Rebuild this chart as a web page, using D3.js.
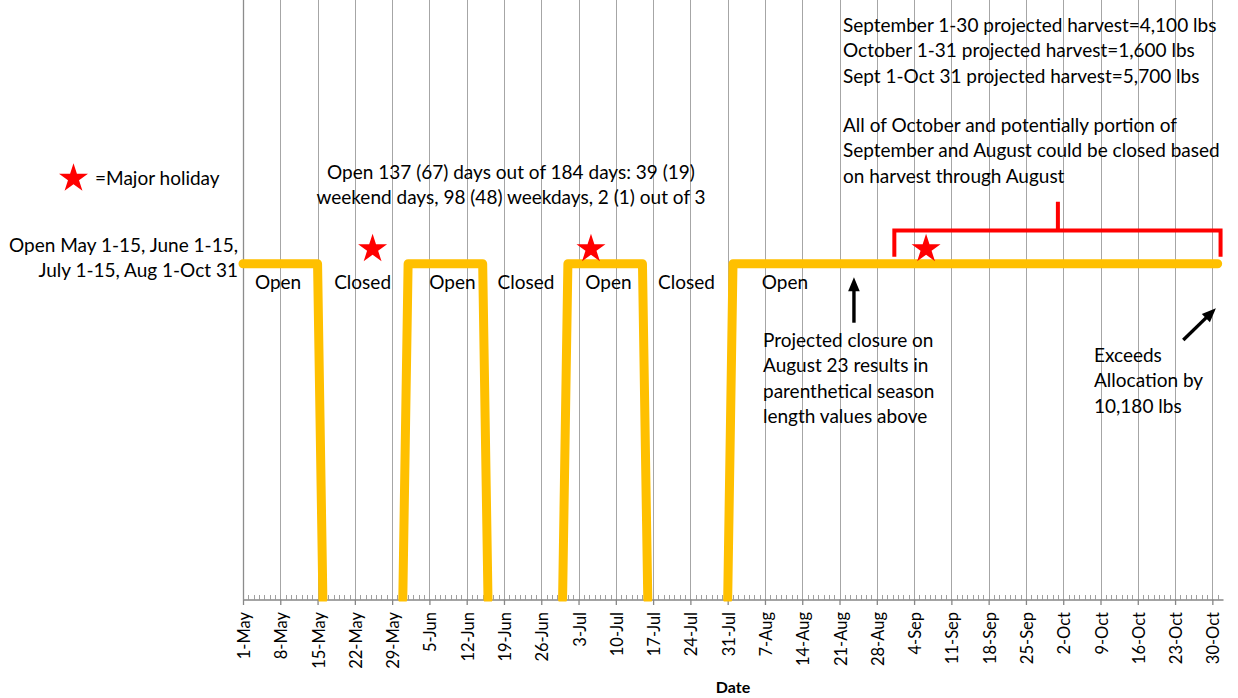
<!DOCTYPE html>
<html>
<head>
<meta charset="utf-8">
<script src="https://cdn.jsdelivr.net/npm/d3@7"></script>
<style>
  body { margin: 0; background: #fff; }
  svg { display: block; font-family: Lato, "Noto Sans", sans-serif; }
</style>
</head>
<body>
<svg id="chart" width="1238" height="698"></svg>
<script>
// season open (1) / closed (0) breakpoints; null = closed stretch drawn as a gap
const seasonDates = ['2015-05-01', '2015-05-15', '2015-05-16', '2015-05-23', '2015-05-31', '2015-06-01', '2015-06-15',
  '2015-06-16', '2015-06-23', '2015-06-30', '2015-07-01', '2015-07-15', '2015-07-16', '2015-07-23', '2015-07-31',
  '2015-08-01', '2015-10-31'];
const seasonOpen = [1, 1, 0, null, 0, 1, 1, 0, null, 0, 1, 1, 0, null, 0, 1, 1];

const tickLabels = ['1-May', '8-May', '15-May', '22-May', '29-May', '5-Jun', '12-Jun', '19-Jun', '26-Jun', '3-Jul',
  '10-Jul', '17-Jul', '24-Jul', '31-Jul', '7-Aug', '14-Aug', '21-Aug', '28-Aug', '4-Sep', '11-Sep', '18-Sep',
  '25-Sep', '2-Oct', '9-Oct', '16-Oct', '23-Oct', '30-Oct'];

const periodLabels = ['Open', 'Closed', 'Open', 'Closed', 'Open', 'Closed', 'Open'];
const periodLabelDates = ['2015-05-07 14', '2015-05-23 11', '2015-06-09 08', '2015-06-23 03', '2015-07-08 15',
  '2015-07-23 06', '2015-08-10 18'];

const holidayDates = ['2015-05-25 08', '2015-07-05 08', '2015-09-06 06'];

const bracketDates = ['2015-08-31 07', '2015-10-01 00', '2015-10-31 13'];
const closureArrow = [['2015-08-23 17', 0.8245], ['2015-08-23 17', 0.96]];
const exceedArrow = [['2015-10-24 13', 0.773], ['2015-10-30 16', 0.8675]];

const legendText = '=Major holiday';
const noteRules = ['Open May 1-15, June 1-15,', 'July 1-15, Aug 1-Oct 31'];
const noteSeason = ['Open 137 (67) days out of 184 days: 39 (19)', 'weekend days, 98 (48) weekdays, 2 (1) out of 3'];
const noteHarvest = ['September 1-30 projected harvest=4,100 lbs', 'October 1-31 projected harvest=1,600 lbs',
  'Sept 1-Oct 31 projected harvest=5,700 lbs'];
const noteClosure = ['All of October and potentially portion of', 'September and August could be closed based',
  'on harvest through August'];
const noteProjected = ['Projected closure on', 'August 23 results in', 'parenthetical season', 'length values above'];
const noteExceeds = ['Exceeds', 'Allocation by', '10,180 lbs'];

const parseDay = d3.utcParse('%Y-%m-%d');
const parseHour = d3.utcParse('%Y-%m-%d %H');
const parseDate = (s) => (s.length > 10 ? parseHour(s) : parseDay(s));
const parseTick = (s) => d3.utcParse('%d-%b-%Y')(s + '-2015');

const svg = d3.select('#chart');
const plotLeft = 243;
const plotRight = 1223;
const plotBottom = 599.5;
const unitPx = 335.7;
const yMax = 1.79;

const x = d3.scaleUtc().domain([parseDay('2015-05-01'), parseDay('2015-11-01')]).range([plotLeft, plotRight]);
const y = d3.scaleLinear().domain([0, yMax]).range([plotBottom, plotBottom - unitPx * yMax]);

const tickDates = tickLabels.map(parseTick);
const labelByTime = new Map(tickDates.map((d, i) => [+d, tickLabels[i]]));
const snap = (v) => Math.round(v) + 0.5;

// gridlines
svg
  .append('g')
  .selectAll('line')
  .data(tickDates)
  .join('line')
  .attr('x1', (d) => snap(x(d)))
  .attr('x2', (d) => snap(x(d)))
  .attr('y1', 0)
  .attr('y2', plotBottom)
  .attr('stroke', '#a6a6a6')
  .attr('stroke-width', 1);

// daily minor ticks
svg
  .append('g')
  .selectAll('line')
  .data(d3.utcDay.range(x.domain()[0], x.domain()[1]))
  .join('line')
  .attr('x1', (d) => snap(x(d)))
  .attr('x2', (d) => snap(x(d)))
  .attr('y1', plotBottom - 4.5)
  .attr('y2', plotBottom)
  .attr('stroke', '#a0a0a0')
  .attr('stroke-width', 1);

// left axis line
svg
  .append('line')
  .attr('x1', snap(plotLeft))
  .attr('x2', snap(plotLeft))
  .attr('y1', 0)
  .attr('y2', plotBottom)
  .attr('stroke', '#8c8c8c')
  .attr('stroke-width', 1.3);

// x axis
const xAxis = svg
  .append('g')
  .attr('transform', `translate(0, ${plotBottom})`)
  .call(
    d3
      .axisBottom(x)
      .tickValues(tickDates)
      .tickSize(5.5)
      .tickSizeOuter(0)
      .tickFormat((d) => labelByTime.get(+d))
  );
xAxis.select('.domain').attr('stroke', '#868686').attr('stroke-width', 1.6);
xAxis.selectAll('.tick line').attr('stroke', '#868686').attr('stroke-width', 1.3);
xAxis
  .selectAll('.tick text')
  .attr('transform', 'rotate(-90)')
  .attr('text-anchor', 'end')
  .attr('x', -12.5)
  .attr('y', 6.5)
  .attr('dy', null)
  .attr('font-family', 'Lato, "Noto Sans", sans-serif')
  .attr('font-size', 16.5)
  .attr('fill', '#000');

svg
  .append('text')
  .attr('x', (plotLeft + plotRight) / 2)
  .attr('y', 693)
  .attr('text-anchor', 'middle')
  .attr('font-size', 16)
  .attr('font-weight', 'bold')
  .text('Date');

// season line, clipped flat just below the axis
svg
  .append('clipPath')
  .attr('id', 'plot-clip')
  .append('rect')
  .attr('x', plotLeft - 6)
  .attr('y', -10)
  .attr('width', plotRight - plotLeft + 12)
  .attr('height', plotBottom + 12);

const seasonPoints = seasonDates.map((d, i) => ({ date: parseDate(d), open: seasonOpen[i] }));
svg
  .append('path')
  .datum(seasonPoints)
  .attr('clip-path', 'url(#plot-clip)')
  .attr('fill', 'none')
  .attr('stroke', '#FFC000')
  .attr('stroke-width', 9)
  .attr('stroke-linejoin', 'round')
  .attr('stroke-linecap', 'round')
  .attr(
    'd',
    d3
      .line()
      .defined((d) => d.open !== null)
      .x((d) => x(d.date))
      .y((d) => y(d.open))
  );

// open / closed labels
svg
  .append('g')
  .selectAll('text')
  .data(periodLabels)
  .join('text')
  .attr('x', (d, i) => x(parseDate(periodLabelDates[i])))
  .attr('y', y(1) + 25)
  .attr('text-anchor', 'middle')
  .attr('font-size', 19)
  .text((d) => d);

// holiday stars
const star = d3.symbol().type(d3.symbolStar).size(260);
svg
  .append('g')
  .selectAll('path')
  .data(holidayDates)
  .join('path')
  .attr('transform', (d) => `translate(${x(parseDate(d))}, ${y(1.044)})`)
  .attr('d', star)
  .attr('fill', '#FF0000');

// bracket over Sept-Oct
const [bStart, bMid, bEnd] = bracketDates.map((d) => x(parseDate(d)));
svg
  .append('path')
  .attr(
    'd',
    `M${bStart},${y(1.021)}V${y(1.099)}H${bEnd}V${y(1.021)}M${bMid},${y(1.099)}V${y(1.185)}`
  )
  .attr('fill', 'none')
  .attr('stroke', '#FF0000')
  .attr('stroke-width', 4);

// arrows
function drawArrow(spec) {
  const [tail, tip] = spec.map(([d, v]) => [x(parseDate(d)), y(v)]);
  const len = Math.hypot(tip[0] - tail[0], tip[1] - tail[1]);
  const ux = (tip[0] - tail[0]) / len;
  const uy = (tip[1] - tail[1]) / len;
  const head = 14;
  const half = 5.8;
  const bx = tip[0] - ux * head;
  const by = tip[1] - uy * head;
  svg
    .append('line')
    .attr('x1', tail[0])
    .attr('y1', tail[1])
    .attr('x2', bx + ux * 2)
    .attr('y2', by + uy * 2)
    .attr('stroke', '#000')
    .attr('stroke-width', 3.4);
  svg
    .append('path')
    .attr('d', `M${tip[0]},${tip[1]}L${bx - uy * half},${by + ux * half}L${bx + uy * half},${by - ux * half}Z`)
    .attr('fill', '#000');
}
drawArrow(closureArrow);
drawArrow(exceedArrow);

// text notes
function drawNote(lines, px, py, anchor) {
  svg
    .append('text')
    .attr('text-anchor', anchor)
    .attr('font-size', 19)
    .attr('fill', '#000')
    .selectAll('tspan')
    .data(lines)
    .join('tspan')
    .attr('x', px)
    .attr('y', (d, i) => py + i * 25.3)
    .text((d) => d);
}
drawNote(noteRules, 238, 252, 'end');
drawNote(noteSeason, 511, 179, 'middle');
drawNote(noteHarvest, 843, 32, 'start');
drawNote(noteClosure, 843, 132, 'start');
drawNote(noteProjected, 763, 347, 'start');
drawNote(noteExceeds, 1094, 362, 'start');

// legend
svg.append('path').attr('transform', 'translate(73.5, 178.5)').attr('d', star).attr('fill', '#FF0000');
drawNote([legendText], 95, 185, 'start');
</script>
</body>
</html>
